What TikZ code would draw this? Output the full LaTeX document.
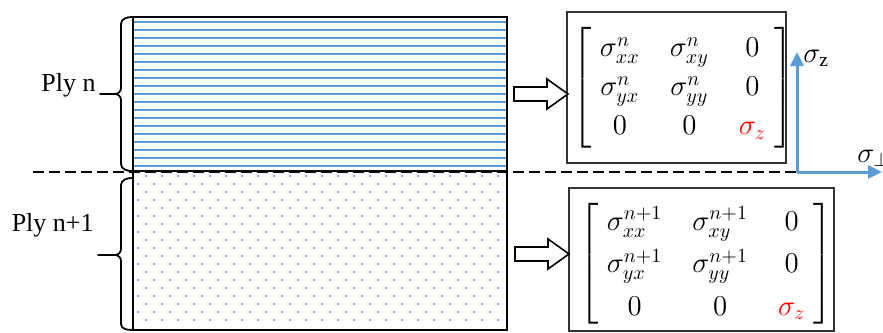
\documentclass[tikz,border=0pt]{standalone}
\usepackage{fontspec}
\setmainfont{Liberation Serif}
\usepackage{amsmath}
\usetikzlibrary{arrows.meta,positioning}
\definecolor{plyblue}{RGB}{91,155,213}

\begin{document}
\begin{tikzpicture}[
  x=0.5pt,
  y=-0.5pt,
  ply border/.style={line width=1pt},
  brace line/.style={line width=0.9pt, line cap=round},
  fiber/.style={plyblue, line width=0.9pt},
  dot/.style={plyblue},
  ply label/.style={font=\fontsize{13}{15}\selectfont, inner sep=0pt},
  stress box/.style={draw=black!80, line width=0.6pt, inner sep=0pt},
  stress matrix/.style={font=\fontsize{14.5}{17}\selectfont, inner sep=0pt},
  axis/.style={plyblue, line width=1.5pt, -{Triangle[width=6.5pt,length=7pt]}},
  axis label/.style={font=\fontsize{14}{16}\selectfont, inner sep=0pt},
  pics/hollow arrow/.style={code={
    \draw[line width=0.8pt, fill=white]
      (0,-7) -- (33,-7) -- (33,-15) -- (54,0) -- (33,15) -- (33,7) -- (0,7) -- cycle;
  }},
]
  \newcommand*{\PlyStress}[2]{%
    \renewcommand{\arraystretch}{#2}%
    $\left[\begin{array}{@{\hspace{4pt}}c@{\hspace{15pt}}c@{\hspace{15pt}}c@{\hspace{4pt}}}
      \sigma_{xx}^{#1} & \sigma_{xy}^{#1} & 0\\
      \sigma_{yx}^{#1} & \sigma_{yy}^{#1} & 0\\
      0 & 0 & \color{red}\sigma_{z}
    \end{array}\right]$}

  \useasboundingbox (0,0) rectangle (883,332);

  % Interface line and axes origin
  \coordinate (dashL) at (33,172);
  \coordinate (O) at (797,172);
  \draw[line width=1pt, dash pattern=on 5.5pt off 2.5pt] (dashL) -- (O);

  % Ply n: fibres along the ply
  \foreach \k in {0,...,18} {
    \draw[fiber] (134,22.3+8*\k) -- (506,22.3+8*\k);
  }
  % Ply n+1: dotted section
  \foreach \r in {0,...,18} {
    \pgfmathtruncatemacro\DotX{mod(\r,2) ? 138 : 146}
    \foreach \c in {0,...,22} {
      \fill[dot] (\DotX+16*\c,176+8*\r) circle[radius=0.6pt];
    }
  }
  \draw[ply border] (133,17) rectangle (507,171);
  \draw[ply border] (133,171) rectangle (507,330);

  % Braces, tips: braceA, braceB
  \draw[brace line]
    (132,17) to[out=180, in=90] (121,24) -- (121,88)
    to[out=-90, in=0] (115,94) coordinate (braceA)
    to[out=0, in=90] (121,100) -- (121,164) to[out=-90, in=180] (132,171);
  \draw[brace line]
    (132,178) to[out=180, in=90] (121,185) -- (121,249)
    to[out=-90, in=0] (115,255) coordinate (braceB)
    to[out=0, in=90] (121,261) -- (121,324) to[out=-90, in=180] (132,330);

  \node[ply label, anchor=base east] (plyA) at (96,91) {Ply n};
  \node[ply label, anchor=base east] (plyB) at (94,231) {Ply n+1};
  \coordinate (stemA) at (100,94);
  \coordinate (stemB) at (98,255);
  \draw[brace line] (stemA) -- (braceA);
  \draw[brace line] (stemB) -- (braceB);

  % Stress states
  \node[stress box, minimum width=109.5pt, minimum height=75.5pt] (boxA) at (676.5,87.5) {};
  \node[stress box, minimum width=132.5pt, minimum height=71.5pt] (boxB) at (701.5,259.5) {};
  \node[stress matrix] (matA) at (683,88) {\PlyStress{n}{1.15}};
  \node[stress matrix] (matB) at (706,264) {\PlyStress{n+1}{1.25}};

  \pic at (514,94) {hollow arrow};
  \pic at (515,254) {hollow arrow};

  % Axes
  \coordinate (tipZ) at (797,52);
  \coordinate (tipP) at (882,172);
  \draw[axis] (O) -- (tipZ);
  \draw[axis] (O) -- (tipP);
  \node[axis label, anchor=west] (lblZ) at (803,58) {$\sigma_{\mathrm{z}}$};
  \node[axis label, anchor=west] (lblP) at (857,158) {$\sigma_{\perp}$};

\end{tikzpicture}
\end{document}
